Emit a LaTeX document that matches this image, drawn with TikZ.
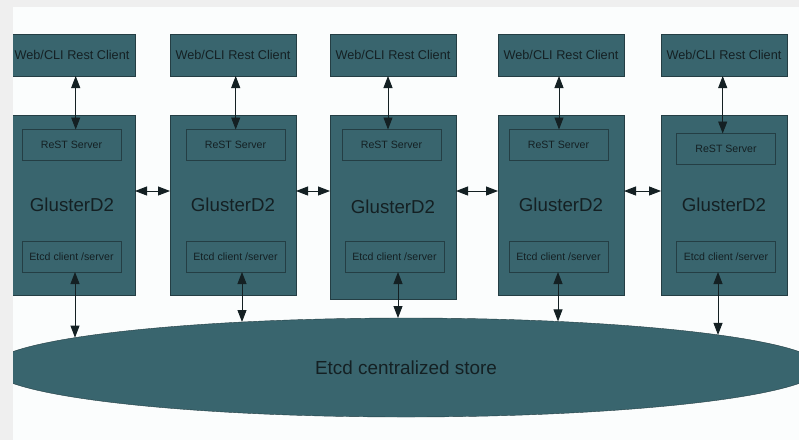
\documentclass[tikz,border=0pt]{standalone}
\usepackage{fontspec}
\setmainfont{Liberation Sans}
\usetikzlibrary{arrows.meta,shapes.geometric}
\definecolor{boxcolor}{RGB}{57,101,110}
\definecolor{edgecolor}{RGB}{36,62,68}
\definecolor{inkcolor}{RGB}{20,32,35}
\definecolor{framegray}{RGB}{239,239,239}
\definecolor{sheetcolor}{RGB}{251,253,253}

\begin{document}
\begin{tikzpicture}[x=1pt, y=-1pt,
  box/.style={draw=edgecolor, fill=boxcolor, text=inkcolor, inner sep=0pt, outer sep=0pt},
  client/.style={box, minimum width=126pt, minimum height=42pt, font=\fontsize{12.7}{14}\selectfont},
  glusterd/.style={box, minimum width=126pt, minimum height=180pt, font=\fontsize{18.7}{22}\selectfont},
  subbox/.style={draw=edgecolor, inner sep=0pt, outer sep=0pt, minimum width=99pt, minimum height=31pt, text=inkcolor, font=\fontsize{10.6}{12}\selectfont},
  store/.style={box, ellipse, minimum width=830pt, minimum height=99pt, font=\fontsize{18.9}{22}\selectfont},
  link/.style={draw=inkcolor, line width=0.9pt, <->, >={Triangle[length=12pt,width=9pt]}}]

% Page
\clip (0,0) rectangle (799,440);
\fill[framegray] (0,0) rectangle (799,440);
\fill[sheetcolor] (13,7) rectangle (799,440);

\begin{scope}
\clip (13,7) rectangle (799,440);

% Rest clients
\node[client] (c1) at (72,55) {Web/CLI Rest Client};
\node[client] (c2) at (233,55) {Web/CLI Rest Client};
\node[client] (c3) at (393,55) {Web/CLI Rest Client};
\node[client] (c4) at (561,55) {Web/CLI Rest Client};
\node[client] (c5) at (724,55) {Web/CLI Rest Client};

% GlusterD2 instances
\node[glusterd] (g1) at (72,205) {GlusterD2};
\node[glusterd] (g2) at (233,205) {GlusterD2};
\node[glusterd, minimum height=184pt] (g3) at (393,207) {GlusterD2};
\node[glusterd] (g4) at (561,205) {GlusterD2};
\node[glusterd] (g5) at (724,205) {GlusterD2};

% ReST servers
\node[subbox] (r1) at (71.5,145) {ReST Server};
\node[subbox] (r2) at (235.5,145) {ReST Server};
\node[subbox] (r3) at (391.5,145) {ReST Server};
\node[subbox] (r4) at (558.5,145) {ReST Server};
\node[subbox] (r5) at (726,149) {ReST Server};

% Etcd clients
\node[subbox] (e1) at (71.5,256.5) {Etcd client /server};
\node[subbox] (e2) at (235.5,256.5) {Etcd client /server};
\node[subbox] (e3) at (394.5,256.5) {Etcd client /server};
\node[subbox] (e4) at (558.5,256.5) {Etcd client /server};
\node[subbox] (e5) at (726,256.5) {Etcd client /server};

% Central store
\node[store] (store) at (406,367.5) {Etcd centralized store};
\coordinate (s1) at (75,337.6);
\coordinate (s2) at (242,322);
\coordinate (s3) at (398,318);
\coordinate (s4) at (558,321.4);
\coordinate (s5) at (718,334.9);

% Client to server
\draw[link] ([xshift=3.7pt]c1.south) -- ([xshift=3.7pt]c1.south |- r1.north);
\draw[link] ([xshift=2.7pt]c2.south) -- ([xshift=2.7pt]c2.south |- r2.north);
\draw[link] ([xshift=-5pt]c3.south) -- ([xshift=-5pt]c3.south |- r3.north);
\draw[link] ([xshift=-2pt]c4.south) -- ([xshift=-2pt]c4.south |- r4.north);
\draw[link] ([xshift=-1.3pt]c5.south) -- ([xshift=-1.3pt]c5.south |- r5.north);

% Peer links
\draw[link] ([yshift=14pt]g1.east) -- ([yshift=14pt]g2.west);
\draw[link] ([yshift=14pt]g2.east) -- ([yshift=16pt]g3.west);
\draw[link] ([yshift=16pt]g3.east) -- ([yshift=14pt]g4.west);
\draw[link] ([yshift=14pt]g4.east) -- ([yshift=14pt]g5.west);

% Etcd to store
\draw[link] (s1 |- e1.south) -- (s1);
\draw[link] (s2 |- e2.south) -- (s2);
\draw[link] (s3 |- e3.south) -- (s3);
\draw[link] (s4 |- e4.south) -- (s4);
\draw[link] (s5 |- e5.south) -- (s5);
\end{scope}

\end{tikzpicture}
\end{document}
